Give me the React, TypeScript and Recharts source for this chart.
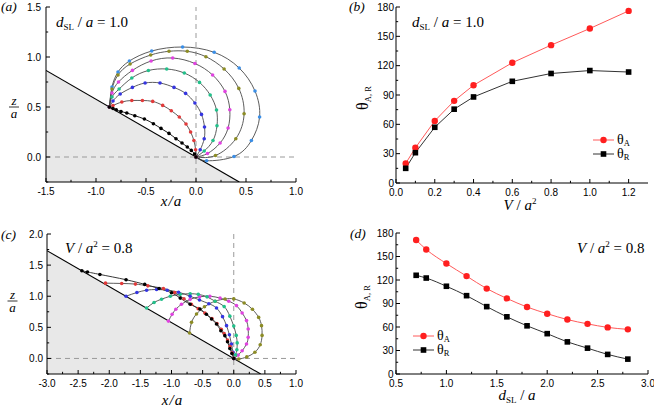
import React from 'react';
import { ComposedChart, Line, Area, XAxis, YAxis, ReferenceLine, Legend } from 'recharts';

const SERIF = '"Liberation Serif", "Times New Roman", serif';
const SANS = '"Liberation Sans", Arial, sans-serif';

type Pt = [number, number];

// (a) drop profiles, d_SL/a = 1.0, points as [x/a, z/a]
const wallA: Pt[] = [[-1.5, 0.866], [0.433, -0.25]];
const traceA: Pt[] = [[-0.866, 0.5], [-0.83, 0.485], [-0.798, 0.473], [-0.75, 0.455], [-0.692, 0.44], [-0.612, 0.413], [-0.516, 0.38], [-0.426, 0.333], [-0.35, 0.286], [-0.27, 0.236], [-0.2, 0.183], [-0.14, 0.14], [-0.087, 0.1], [-0.047, 0.066], [-0.014, 0.03], [0, 0]];
const redA: Pt[] = [[-0.866, 0.5], [-0.83, 0.515], [-0.742, 0.55], [-0.642, 0.565], [-0.536, 0.565], [-0.433, 0.556], [-0.333, 0.516], [-0.247, 0.463], [-0.167, 0.4], [-0.1, 0.33], [-0.054, 0.25], [-0.021, 0.165], [-0.004, 0.073], [0, 0]];
const blueA: Pt[] = [[-0.866, 0.5], [-0.83, 0.56], [-0.758, 0.63], [-0.636, 0.696], [-0.509, 0.74], [-0.36, 0.74], [-0.22, 0.696], [-0.104, 0.636], [-0.011, 0.54], [0.055, 0.426], [0.085, 0.3], [0.082, 0.183], [0.042, 0.073], [0, 0]];
const tealA: Pt[] = [[-0.866, 0.5], [-0.84, 0.6], [-0.769, 0.68], [-0.642, 0.79], [-0.476, 0.865], [-0.293, 0.88], [-0.117, 0.84], [0.035, 0.746], [0.142, 0.62], [0.205, 0.47], [0.21, 0.313], [0.17, 0.165], [0.082, 0.06], [0, 0]];
const magentaA: Pt[] = [[-0.866, 0.5], [-0.84, 0.64], [-0.775, 0.75], [-0.636, 0.866], [-0.449, 0.96], [-0.233, 0.99], [-0.011, 0.935], [0.166, 0.82], [0.29, 0.656], [0.338, 0.473], [0.321, 0.29], [0.241, 0.14], [0.115, 0.035], [0, 0]];
const oliveA: Pt[] = [[-0.866, 0.5], [-0.84, 0.68], [-0.78, 0.82], [-0.659, 0.93], [-0.453, 1.02], [-0.27, 1.057], [-0.087, 1.057], [0.099, 1.003], [0.281, 0.88], [0.428, 0.686], [0.481, 0.433], [0.398, 0.183], [0.195, 0.015], [0, 0]];
const skyA: Pt[] = [[-0.866, 0.5], [-0.84, 0.7], [-0.78, 0.85], [-0.666, 0.96], [-0.443, 1.06], [-0.134, 1.1], [0.182, 1.047], [0.432, 0.89], [0.59, 0.66], [0.636, 0.4], [0.554, 0.165], [0.38, 0.005], [0.106, -0.037], [0, 0]];

// (c) drop profiles, V/a^2 = 0.8
const wallC: Pt[] = [[-3, 1.732], [0.433, -0.25]];
const blackC: Pt[] = [[-2.44, 1.41], [-2.35, 1.39], [-2.15, 1.35], [-1.73, 1.265], [-1.43, 1.19], [-1.2, 1.125], [-1.0, 1.055], [-0.86, 0.97], [-0.7, 0.87], [-0.544, 0.795], [-0.44, 0.71], [-0.357, 0.634], [-0.277, 0.553], [-0.207, 0.446], [-0.143, 0.366], [-0.1, 0.269], [-0.063, 0.161], [-0.03, 0.08], [0, 0]];
const redC: Pt[] = [[-2.06, 1.21], [-1.8, 1.205], [-1.58, 1.195], [-1.38, 1.167], [-1.13, 1.125], [-0.95, 1.06], [-0.8, 0.96], [-0.68, 0.87], [-0.571, 0.8], [-0.464, 0.73], [-0.35, 0.64], [-0.27, 0.56], [-0.2, 0.47], [-0.154, 0.4], [-0.1, 0.295], [-0.06, 0.19], [-0.025, 0.09], [0, 0]];
const blueC: Pt[] = [[-1.73, 1.0], [-1.556, 1.06], [-1.4, 1.097], [-1.24, 1.108], [-1.07, 1.097], [-0.887, 1.065], [-0.7, 1.0], [-0.55, 0.94], [-0.4, 0.88], [-0.277, 0.81], [-0.18, 0.672], [-0.116, 0.527], [-0.07, 0.38], [-0.036, 0.231], [-0.012, 0.1], [0, 0]];
const tealC: Pt[] = [[-1.4, 0.81], [-1.28, 0.9], [-1.16, 0.952], [-1.02, 1.0], [-0.86, 1.03], [-0.7, 1.04], [-0.57, 1.03], [-0.43, 0.99], [-0.3, 0.92], [-0.154, 0.833], [-0.063, 0.68], [0.0, 0.52], [0.04, 0.37], [0.055, 0.25], [0.05, 0.14], [0.03, 0.06], [0, 0]];
const magentaC: Pt[] = [[-1.05, 0.6], [-0.99, 0.71], [-0.93, 0.79], [-0.84, 0.87], [-0.7, 0.95], [-0.55, 0.99], [-0.384, 1.0], [-0.22, 0.97], [-0.08, 0.92], [0.044, 0.849], [0.135, 0.731], [0.205, 0.608], [0.232, 0.473], [0.232, 0.339], [0.205, 0.231], [0.135, 0.124], [0.071, 0.054], [0, 0]];
const oliveC: Pt[] = [[-0.71, 0.41], [-0.678, 0.58], [-0.598, 0.715], [-0.47, 0.83], [-0.3, 0.92], [-0.14, 0.955], [0.0, 0.957], [0.167, 0.892], [0.3, 0.79], [0.4, 0.66], [0.446, 0.527], [0.455, 0.37], [0.425, 0.22], [0.34, 0.1], [0.21, 0.025], [0.08, -0.01], [0, 0]];

// (b) contact angles vs V/a^2
const vRatio = [0.05, 0.1, 0.2, 0.3, 0.4, 0.6, 0.8, 1.0, 1.2];
const thetaAvsV = [20, 36, 63.5, 84, 100, 123, 141, 158, 176];
const thetaRvsV = [15, 31, 57, 75.5, 88, 104, 112, 115, 113.5];

// (d) contact angles vs d_SL/a
const dRatio = [0.7, 0.8, 1.0, 1.2, 1.4, 1.6, 1.8, 2.0, 2.2, 2.4, 2.6, 2.8];
const thetaAvsD = [171, 159, 141, 125, 109, 96.5, 85.5, 77, 69.5, 64, 59.5, 57];
const thetaRvsD = [126, 122.5, 112, 100, 86, 73, 61.5, 51.5, 41, 33, 25, 19];

// ticks (minor + major)
const xTicksA = [-1.5, -1.25, -1, -0.75, -0.5, -0.25, 0, 0.25, 0.5, 0.75, 1];
const yTicksA = [-0.25, 0, 0.25, 0.5, 0.75, 1, 1.25, 1.5];
const xTicksC = [-3, -2.75, -2.5, -2.25, -2, -1.75, -1.5, -1.25, -1, -0.75, -0.5, -0.25, 0, 0.25, 0.5, 0.75, 1];
const yTicksC = [-0.25, 0, 0.25, 0.5, 0.75, 1, 1.25, 1.5, 1.75, 2];
const xTicksB = [0, 0.1, 0.2, 0.3, 0.4, 0.5, 0.6, 0.7, 0.8, 0.9, 1.0, 1.1, 1.2];
const xTicksD = [0.5, 0.75, 1, 1.25, 1.5, 1.75, 2, 2.25, 2.5, 2.75, 3];
const angleTicks = [0, 15, 30, 45, 60, 75, 90, 105, 120, 135, 150, 165, 180];

const toRows = (pts: Pt[]) => pts.map(([x, z]) => ({ x, z }));
const dataB = vRatio.map((v, i) => ({ v, a: thetaAvsV[i], r: thetaRvsV[i] }));
const dataD = dRatio.map((d, i) => ({ d, a: thetaAvsD[i], r: thetaRvsD[i] }));

// inward ticks with minor ticks; labels only on majors
function makeTick(side: 'bottom' | 'left', majorStep: number, digits: number, gap: number) {
  return (props: any) => {
    const { x, y, payload, index } = props;
    const v = payload.value;
    const major = Math.abs(v / majorStep - Math.round(v / majorStep)) < 1e-6;
    const len = major ? 4 : 2.2;
    if (side === 'bottom') {
      const ay = y - gap;
      return (
        <g key={`bt-${index}`}>
          <line x1={x} y1={ay} x2={x} y2={ay - len} stroke="#000" strokeWidth={1} />
          {major && (
            <text x={x} y={ay + 13} textAnchor="middle" fontFamily={SANS} fontSize={10} fill="#000">
              {v.toFixed(digits)}
            </text>
          )}
        </g>
      );
    }
    const ax = x + gap;
    return (
      <g key={`lt-${index}`}>
        <line x1={ax} y1={y} x2={ax + len} y2={y} stroke="#000" strokeWidth={1} />
        {major && (
          <text x={ax - gap} y={y + 3.6} textAnchor="end" fontFamily={SANS} fontSize={10} fill="#000">
            {v.toFixed(digits)}
          </text>
        )}
      </g>
    );
  };
}

const profileDot = (color: string, r = 1.8) => (p: any) => (
  <circle key={`${color}-${p.index}`} cx={p.cx} cy={p.cy} r={r} fill={color} />
);
const redDot = (p: any) => <circle key={`rd-${p.index}`} cx={p.cx} cy={p.cy} r={3.2} fill="#ff1f1f" />;
const blackSquare = (p: any) => (
  <rect key={`bs-${p.index}`} x={p.cx - 2.8} y={p.cy - 2.8} width={5.6} height={5.6} fill="#000" />
);

const LegendBox = (props: any) => {
  const { payload } = props;
  return (
    <div style={{ fontFamily: SERIF }}>
      {(payload || []).map((e: any) => (
        <div key={e.value} style={{ display: 'flex', alignItems: 'center', height: 14 }}>
          <svg width={24} height={10}>
            <line x1={0} y1={5} x2={21} y2={5} stroke={e.color} strokeWidth={1} />
            {e.dataKey === 'r' ? (
              <rect x={7.7} y={2.2} width={5.6} height={5.6} fill="#000" />
            ) : (
              <circle cx={10.5} cy={5} r={3.2} fill="#ff1f1f" />
            )}
          </svg>
          <span style={{ fontSize: 14, lineHeight: '12px' }}>
            {e.value.slice(0, 1)}
            <span style={{ fontSize: 8.5, position: 'relative', top: 2 }}>{e.value.slice(1)}</span>
          </span>
        </div>
      ))}
    </div>
  );
};

const profileLine = (pts: Pt[], color: string, stroke = '#4a4a4a') => (
  <Line
    key={color + pts[0][0]}
    data={toRows(pts)}
    dataKey="z"
    type="natural"
    stroke={stroke}
    strokeWidth={0.9}
    dot={profileDot(color)}
    activeDot={false}
    legendType="none"
    isAnimationActive={false}
  />
);

const frameAxes = [
  <XAxis key="ft" xAxisId="top" orientation="top" type="number" domain={[0, 1]} tick={false} tickLine={false} axisLine={{ stroke: '#000' }} height={0} />,
  <YAxis key="fr" yAxisId="right" orientation="right" type="number" domain={[0, 1]} tick={false} tickLine={false} axisLine={{ stroke: '#000' }} width={0} />,
];

const ital = { fontFamily: SERIF, fontStyle: 'italic' as const };

// z over a, stacked with a short bar
const StackedZA = ({ x, y }: { x: number; y: number }) => (
  <g>
    <text x={x} y={y} textAnchor="middle" {...ital} fontSize={13}>
      <tspan x={x}>z</tspan>
      <tspan x={x} dy={13}>a</tspan>
    </text>
    <line x1={x - 5} y1={y + 2} x2={x + 5} y2={y + 2} stroke="#000" strokeWidth={0.8} />
  </g>
);

export default function App() {
  return (
    <div style={{ position: 'absolute', left: 0, top: 0, width: 654, height: 411, background: '#fff' }}>
      {/* (a) */}
      <div style={{ position: 'absolute', left: 0, top: 0 }}>
        <ComposedChart width={330} height={212} margin={{ top: 7, right: 34, bottom: 0, left: 0 }}>
          <XAxis dataKey="x" type="number" domain={[-1.5, 1]} ticks={xTicksA} interval={0} allowDataOverflow
            tick={makeTick('bottom', 0.5, 1, 5)} tickLine={false} tickSize={0} tickMargin={5} axisLine={{ stroke: '#000' }} height={30} />
          <YAxis type="number" domain={[-0.25, 1.5]} ticks={yTicksA} interval={0} allowDataOverflow
            tick={makeTick('left', 0.5, 1, 5)} tickLine={false} tickSize={0} tickMargin={5} axisLine={{ stroke: '#000' }} width={46} />
          {frameAxes}
          <Area data={toRows(wallA)} dataKey="z" type="linear" baseValue={-0.25} stroke="#000" strokeWidth={1.2}
            fill="#e8e8e8" fillOpacity={1} dot={false} activeDot={false} legendType="none" isAnimationActive={false} />
          <ReferenceLine x={0} stroke="#9a9a9a" strokeDasharray="5 4" />
          <ReferenceLine y={0} stroke="#9a9a9a" strokeDasharray="5 4" />
          {profileLine(skyA, '#3a8ee6')}
          {profileLine(oliveA, '#8c8c25')}
          {profileLine(magentaA, '#e043e0')}
          {profileLine(tealA, '#22c08a')}
          {profileLine(blueA, '#3535e0')}
          {profileLine(redA, '#e23a3a')}
          {profileLine(traceA, '#000', '#000')}
          <text x={1} y={11} {...ital} fontSize={13.5}>(a)</text>
          <text x={56} y={27} fontFamily={SERIF} fontSize={15}>
            <tspan fontStyle="italic">d</tspan>
            <tspan fontSize={9} dy={3}>SL</tspan>
            <tspan dy={-3}> / </tspan>
            <tspan fontStyle="italic">a</tspan>
            <tspan> = 1.0</tspan>
          </text>
          <text x={171} y={206} textAnchor="middle" {...ital} fontSize={15}>x<tspan dx={1}>/</tspan><tspan dx={1}>a</tspan></text>
          <StackedZA x={14} y={105} />
        </ComposedChart>
      </div>

      {/* (b) */}
      <div style={{ position: 'absolute', left: 330, top: 0 }}>
        <ComposedChart width={324} height={212} data={dataB} margin={{ top: 7, right: 6, bottom: 0, left: 0 }}>
          <XAxis dataKey="v" type="number" domain={[0, 1.3]} ticks={xTicksB} interval={0} allowDataOverflow
            tick={makeTick('bottom', 0.2, 1, 5)} tickLine={false} tickSize={0} tickMargin={5} axisLine={{ stroke: '#000' }} height={29} />
          <YAxis type="number" domain={[0, 180]} ticks={angleTicks} interval={0} allowDataOverflow
            tick={makeTick('left', 30, 0, 2)} tickLine={false} tickSize={0} tickMargin={2} axisLine={{ stroke: '#000' }} width={66} />
          <Line dataKey="a" name="θA" type="linear" stroke="#ff5a5a" strokeWidth={1} dot={redDot} activeDot={false} isAnimationActive={false} />
          <Line dataKey="r" name="θR" type="linear" stroke="#333" strokeWidth={1} dot={blackSquare} activeDot={false} isAnimationActive={false} />
          <Legend layout="horizontal" verticalAlign="middle" align="center" content={LegendBox}
            wrapperStyle={{ left: 263, top: 133, width: 'auto' }} />
          <text x={19} y={11} {...ital} fontSize={13.5}>(b)</text>
          <text x={82} y={27} fontFamily={SERIF} fontSize={15}>
            <tspan fontStyle="italic">d</tspan>
            <tspan fontSize={9} dy={3}>SL</tspan>
            <tspan dy={-3}> / </tspan>
            <tspan fontStyle="italic">a</tspan>
            <tspan> = 1.0</tspan>
          </text>
          <text x={190} y={210} textAnchor="middle" fontFamily={SERIF} fontSize={15}>
            <tspan fontStyle="italic">V</tspan>
            <tspan> / </tspan>
            <tspan fontStyle="italic">a</tspan>
            <tspan fontSize={9} dy={-6}>2</tspan>
          </text>
          <text x={38} y={98} transform="rotate(-90 38 98)" textAnchor="middle" fontFamily={SERIF} fontSize={16}>
            θ<tspan fontSize={8.5} dy={3}>A, R</tspan>
          </text>
        </ComposedChart>
      </div>

      {/* (c) */}
      <div style={{ position: 'absolute', left: 0, top: 215 }}>
        <ComposedChart width={330} height={196} margin={{ top: 19, right: 34, bottom: 0, left: 0 }}>
          <XAxis dataKey="x" type="number" domain={[-3, 1]} ticks={xTicksC} interval={0} allowDataOverflow
            tick={makeTick('bottom', 0.5, 1, 5)} tickLine={false} tickSize={0} tickMargin={5} axisLine={{ stroke: '#000' }} height={37} />
          <YAxis type="number" domain={[-0.25, 2]} ticks={yTicksC} interval={0} allowDataOverflow
            tick={makeTick('left', 0.5, 1, 4)} tickLine={false} tickSize={0} tickMargin={4} axisLine={{ stroke: '#000' }} width={47} />
          {frameAxes}
          <Area data={toRows(wallC)} dataKey="z" type="linear" baseValue={-0.25} stroke="#000" strokeWidth={1.1}
            fill="#e8e8e8" fillOpacity={1} dot={false} activeDot={false} legendType="none" isAnimationActive={false} />
          <ReferenceLine x={0} stroke="#9a9a9a" strokeDasharray="5 4" />
          <ReferenceLine y={0} stroke="#9a9a9a" strokeDasharray="5 4" />
          {profileLine(oliveC, '#8c8c25')}
          {profileLine(magentaC, '#e043e0')}
          {profileLine(tealC, '#22c08a')}
          {profileLine(blueC, '#3535e0')}
          {profileLine(redC, '#e23a3a')}
          {profileLine(blackC, '#000', '#222')}
          <text x={1} y={24} {...ital} fontSize={13.5}>(c)</text>
          <text x={65} y={38} fontFamily={SERIF} fontSize={15}>
            <tspan fontStyle="italic">V</tspan>
            <tspan> / </tspan>
            <tspan fontStyle="italic">a</tspan>
            <tspan fontSize={9} dy={-6}>2</tspan>
            <tspan dy={6}> = 0.8</tspan>
          </text>
          <text x={172} y={190} textAnchor="middle" {...ital} fontSize={15}>x<tspan dx={1}>/</tspan><tspan dx={1}>a</tspan></text>
          <StackedZA x={12.5} y={84} />
        </ComposedChart>
      </div>

      {/* (d) */}
      <div style={{ position: 'absolute', left: 330, top: 215 }}>
        <ComposedChart width={324} height={196} data={dataD} margin={{ top: 18, right: 6, bottom: 0, left: 0 }}>
          <XAxis dataKey="d" type="number" domain={[0.5, 3]} ticks={xTicksD} interval={0} allowDataOverflow
            tick={makeTick('bottom', 0.5, 1, 5)} tickLine={false} tickSize={0} tickMargin={5} axisLine={{ stroke: '#000' }} height={37} />
          <YAxis type="number" domain={[0, 180]} ticks={angleTicks} interval={0} allowDataOverflow
            tick={makeTick('left', 30, 0, 2.5)} tickLine={false} tickSize={0} tickMargin={2.5} axisLine={{ stroke: '#000' }} width={66} />
          <Line dataKey="a" name="θA" type="monotone" stroke="#ff5a5a" strokeWidth={1} dot={redDot} activeDot={false} isAnimationActive={false} />
          <Line dataKey="r" name="θR" type="monotone" stroke="#333" strokeWidth={1} dot={blackSquare} activeDot={false} isAnimationActive={false} />
          <Legend layout="horizontal" verticalAlign="middle" align="center" content={LegendBox}
            wrapperStyle={{ left: 83, top: 114, width: 'auto' }} />
          <text x={20} y={23} {...ital} fontSize={13.5}>(d)</text>
          <text x={247} y={38} fontFamily={SERIF} fontSize={15}>
            <tspan fontStyle="italic">V</tspan>
            <tspan> / </tspan>
            <tspan fontStyle="italic">a</tspan>
            <tspan fontSize={9} dy={-6}>2</tspan>
            <tspan dy={6}> = 0.8</tspan>
          </text>
          <text x={187} y={185} textAnchor="middle" fontFamily={SERIF} fontSize={15}>
            <tspan fontStyle="italic">d</tspan>
            <tspan fontSize={9} dy={3}>SL</tspan>
            <tspan dy={-3}> / </tspan>
            <tspan fontStyle="italic">a</tspan>
          </text>
          <text x={37} y={82} transform="rotate(-90 37 82)" textAnchor="middle" fontFamily={SERIF} fontSize={16}>
            θ<tspan fontSize={8.5} dy={3}>A, R</tspan>
          </text>
        </ComposedChart>
      </div>
    </div>
  );
}
